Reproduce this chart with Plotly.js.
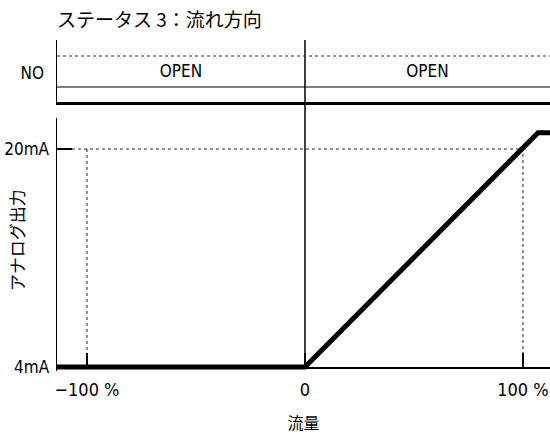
<!DOCTYPE html>
<html>
<head>
<meta charset="utf-8">
<script src="https://cdn.plot.ly/plotly-3.0.1.min.js"></script>
<style>
  html, body { margin: 0; padding: 0; background: #fff; }
  #graph { width: 550px; height: 435px; }
</style>
</head>
<body>
<div id="graph"></div>
<script>
// analog output (mA) vs flow (%)
const flow = [-120, 0, 106.9, 120];
const output = [4, 4, 21.2, 21.2];

// dotted guide lines at +-100% / 20mA
const guideX = [-106.9, 100, 100, null, -100, -100];
const guideY = [20, 20, 4, null, 20, 4];

// status band on top
const stateX = [-56.9, 56.2];
const stateLabels = ['OPEN', 'OPEN'];
const stateY = [0.47, 0.47];

const xTicks = [-100, 0, 100];
const xTickText = ['\u2212100 %', '0', '100 %'];
const yTicks = [4, 20];
const yTickText = ['4mA', '20mA'];

const narrow = 'DejaVu Sans Condensed, Liberation Sans Narrow, Liberation Sans, sans-serif';
const jp = 'Noto Sans CJK JP, sans-serif';

// plot area: x 57..550, y 40..371
const xBase = (371 - 367) / 331;

let trace1 = {
    x: flow,
    y: output,
    type: 'scatter',
    mode: 'lines',
    line: { color: '#000', width: 5 },
    hoverinfo: 'skip'
};
let trace2 = {
    x: guideX,
    y: guideY,
    type: 'scatter',
    mode: 'lines',
    line: { color: '#222', width: 1, dash: 'dot' },
    hoverinfo: 'skip'
};
let trace3 = {
    x: stateX,
    y: stateY,
    text: stateLabels,
    xaxis: 'x2',
    yaxis: 'y2',
    type: 'scatter',
    mode: 'text',
    textfont: { family: narrow, size: 17, color: '#000' },
    hoverinfo: 'skip'
};

let layout = {
    width: 550,
    height: 435,
    margin: { l: 57, r: 0, t: 40, b: 64 },
    paper_bgcolor: '#fff',
    plot_bgcolor: '#fff',
    showlegend: false,
    font: { family: narrow, size: 17, color: '#000' },
    title: {
        text: 'ステータス 3：流れ方向',
        font: { family: jp, size: 19, color: '#000' },
        xref: 'paper', x: 0, xanchor: 'left',
        yref: 'container', y: 1 - 20 / 435, yanchor: 'middle'
    },
    xaxis: {
        range: [-113.76, 112.39],
        anchor: 'free',
        position: xBase,
        showline: true, linecolor: '#000', linewidth: 1.5,
        showgrid: false, zeroline: false,
        tickvals: xTicks, ticktext: xTickText,
        ticks: 'inside', ticklen: 14, tickwidth: 1.5, tickcolor: '#000',
        ticklabelstandoff: 6,
        tickfont: { family: narrow, size: 18 },
        title: { text: '流量', font: { family: jp, size: 16 }, standoff: 18 }
    },
    yaxis: {
        domain: [0, (371 - 118) / 331],
        range: [4 - 4 / 13.625, 4 + 249 / 13.625],
        showline: true, linecolor: '#000', linewidth: 1.5,
        showgrid: false, zeroline: false,
        tickvals: yTicks, ticktext: yTickText,
        ticks: 'inside', ticklen: 15, tickwidth: 1.5, tickcolor: '#000',
        ticklabelstandoff: 3,
        tickfont: { family: narrow, size: 17 }
    },
    xaxis2: {
        matches: 'x',
        anchor: 'y2',
        showline: true, linecolor: '#000', linewidth: 2.5,
        showgrid: false, zeroline: false,
        showticklabels: false, ticks: ''
    },
    yaxis2: {
        domain: [(371 - 102) / 331, 1],
        range: [0, 1],
        anchor: 'x2',
        showline: true, linecolor: '#000', linewidth: 1.5,
        showgrid: false, zeroline: false,
        tickvals: [0.47], ticktext: ['NO'], ticks: '',
        ticklabelstandoff: 8,
        tickfont: { family: narrow, size: 17 }
    },
    shapes: [
        // vertical line at flow 0 through both panels
        { type: 'line', xref: 'x', yref: 'paper', x0: 0, x1: 0, y0: xBase, y1: 1,
          line: { color: '#000', width: 1.5 } },
        { type: 'line', xref: 'paper', yref: 'y2', x0: 0, x1: 1, y0: 0.242, y1: 0.242,
          line: { color: '#000', width: 1 } },
        { type: 'line', xref: 'paper', yref: 'y2', x0: 0, x1: 1, y0: 0.742, y1: 0.742,
          line: { color: '#333', width: 1, dash: 'dot' } }
    ],
    annotations: [
        { text: 'アナログ出力', textangle: -90, showarrow: false,
          xref: 'paper', yref: 'paper', x: -41 / 493, y: (371 - 240) / 331,
          xanchor: 'center', yanchor: 'middle',
          font: { family: jp, size: 17, color: '#000' } }
    ]
};

const data12 = [trace2, trace1, trace3];
var config = { staticPlot: true };
Plotly.newPlot('graph', data12, layout, config);
</script>
</body>
</html>
